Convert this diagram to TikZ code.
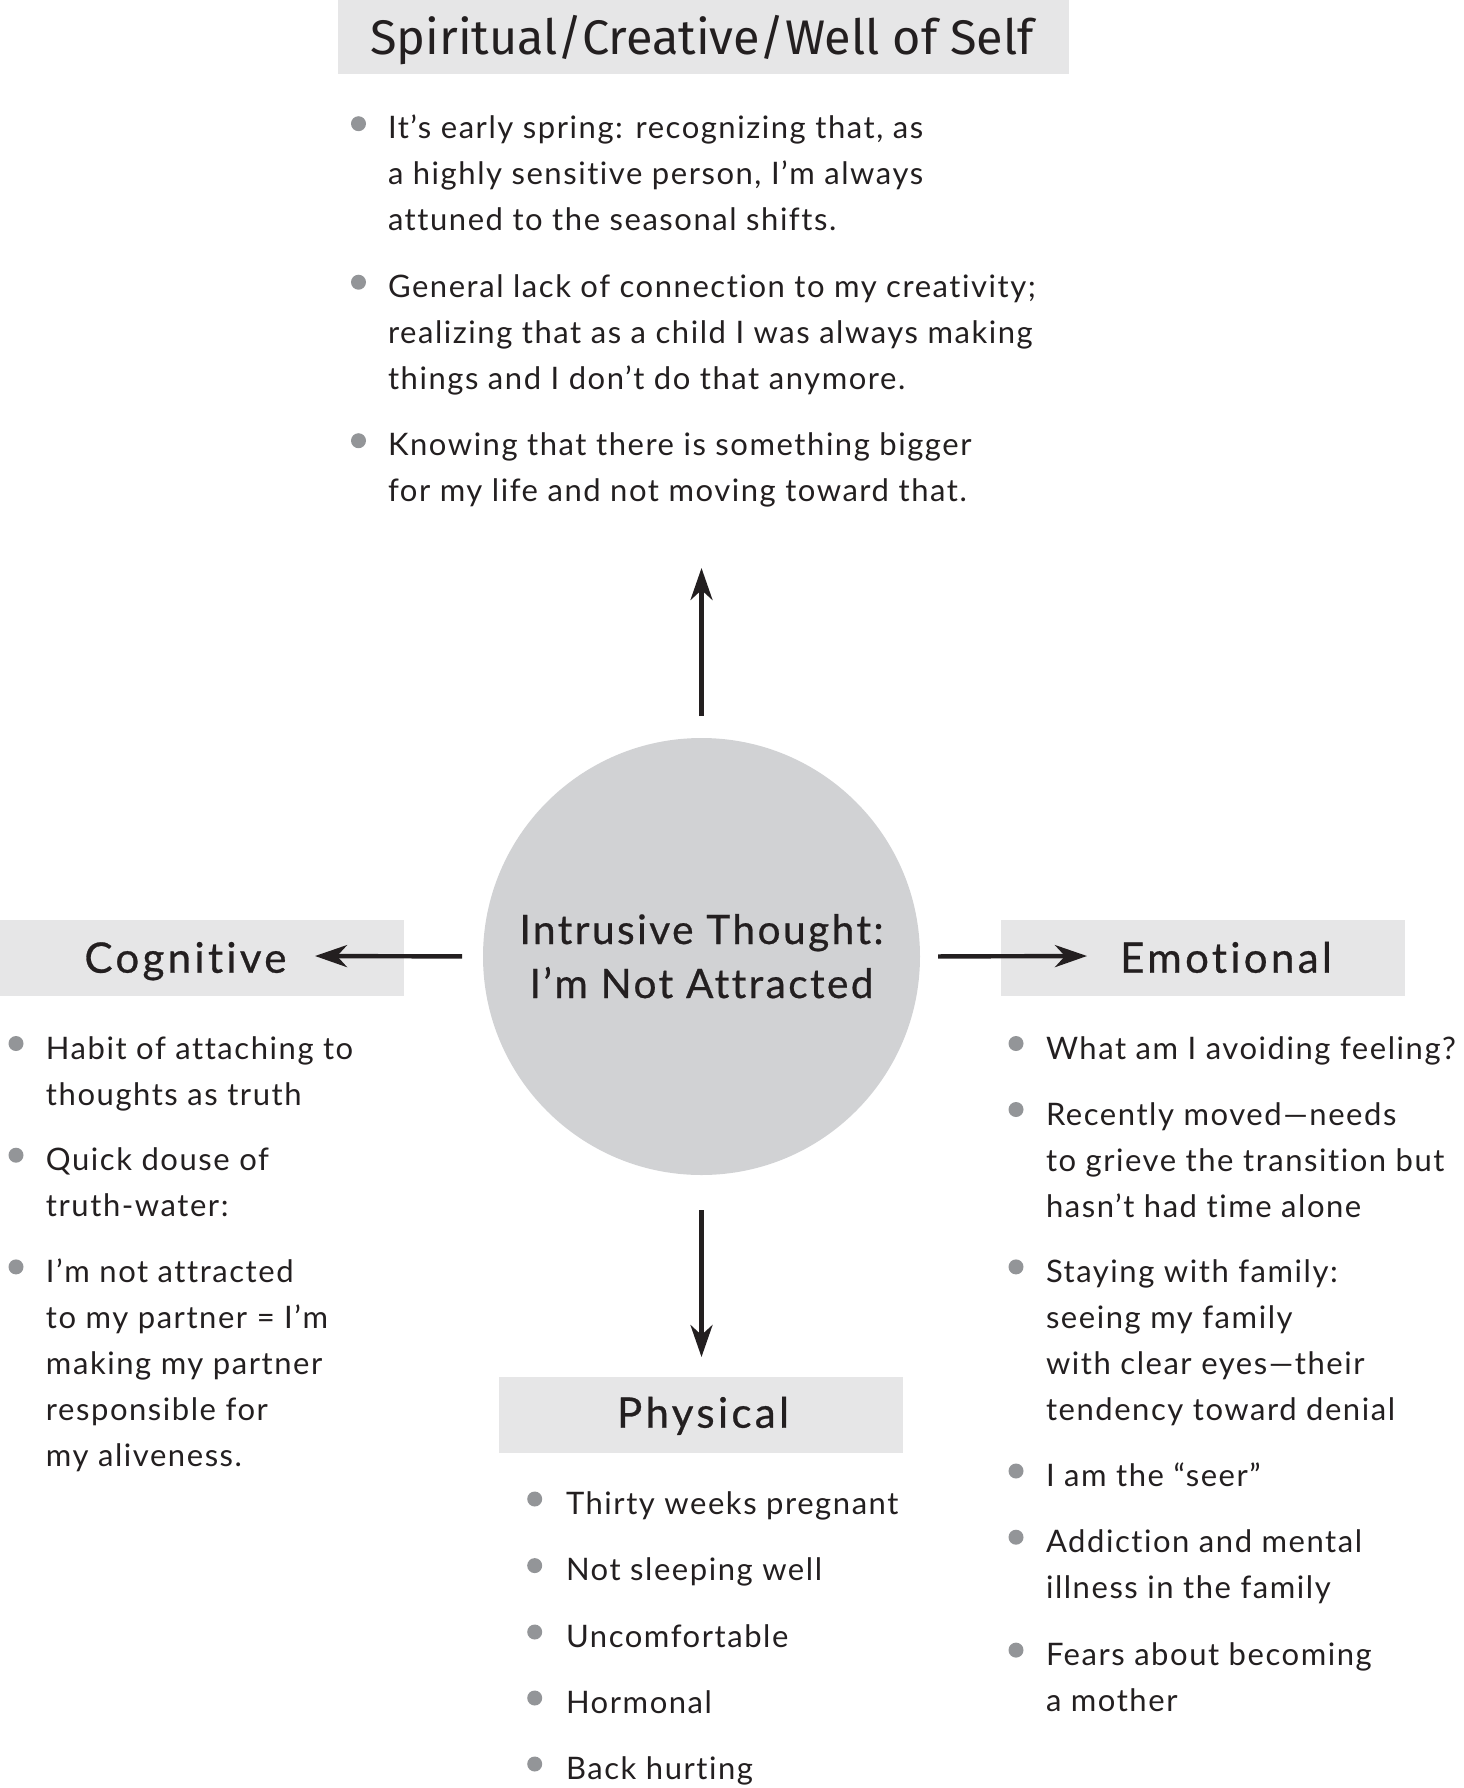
\documentclass[tikz,border=0pt]{standalone}
\usepackage{fontspec}
\setmainfont{Lato}[LetterSpace=5.0,Ligatures={NoCommon}]
\newfontfamily\hfont{Lato}[LetterSpace=8.0,FakeBold=0.7,Ligatures={NoCommon}]
\newfontfamily\cfont{Lato}[LetterSpace=6.0,FakeBold=0.6,Ligatures={NoCommon}]
\newfontfamily\tfont{Fira Sans}
\usetikzlibrary{arrows.meta}
\definecolor{ink}{HTML}{231F20}
\definecolor{boxgray}{HTML}{E6E6E7}
\definecolor{circgray}{HTML}{D1D2D4}
\definecolor{dotgray}{HTML}{939598}
\begin{document}
\begin{tikzpicture}[x=0.5pt,y=-0.5pt,
  every node/.style={inner sep=0pt, outer sep=0pt, text=ink},
  headbox/.style={fill=boxgray, minimum width=202pt, minimum height=38pt, anchor=north west},
  body/.style={anchor=base west, align=left, font=\fontsize{15.5}{23}\selectfont},
  dot/.style={circle, fill=dotgray, minimum size=7.5pt},
  headtext/.style={anchor=base, font=\hfont\fontsize{21}{25}\selectfont},
  arr/.style={draw=ink, line width=2.2pt, -{Stealth[length=16pt,width=11pt,inset=5pt]}}
]
\useasboundingbox (0,0) rectangle (1463,1788);

% top heading
\node[fill=boxgray, minimum width=365.5pt, minimum height=37pt, anchor=north west] (topbox) at (337.5,0) {};
\node[anchor=base, font=\tfont\fontsize{24.3}{28}\selectfont] (toptext) at (702,54.7) {Spiritual/Creative/Well of Self};

% top items (anchor = baseline of last line)
\node[dot] (td1) at (358.5,123.7) {};
\node[body] (tt1) at (388,230.7) {It’s early spring: recognizing that, as\\a highly sensitive person, I’m always\\attuned to the seasonal shifts.};
\node[dot] (td2) at (358.5,282.2) {};
\node[body] (tt2) at (388,389.2) {General lack of connection to my creativity;\\realizing that as a child I was always making\\things and I don’t do that anymore.};
\node[dot] (td3) at (358.5,440.7) {};
\node[body] (tt3) at (388,501.7) {Knowing that there is something bigger\\for my life and not moving toward that.};

% centre circle
\node[circle, fill=circgray, minimum size=218.5pt] (circ) at (701.5,956.5) {};
\node[anchor=base, align=center, font=\cfont\fontsize{20.3}{27}\selectfont] (circtext) at (701.5,998) {Intrusive Thought:\\I’m Not Attracted};

% boxes
\node[headbox] (cogbox) at (0,920) {};
\node[headtext] (cogtext) at (185.5,972.7) {Cognitive};
\node[headbox] (emobox) at (1001,920) {};
\node[headtext] (emotext) at (1226,972.7) {Emotional};
\node[headbox] (phybox) at (499,1377) {};
\node[headtext] (phytext) at (703,1427.7) {Physical};

% arrows
\coordinate (tipU) at (701.5,568);
\coordinate (tipL) at (315,956);
\coordinate (tipR) at (1087,956);
\coordinate (tipD) at (701.5,1357);
\draw[arr, shorten <=11pt] (circ.north) -- (tipU);
\draw[arr, shorten <=10.5pt] (circ.west) -- (tipL);
\draw[arr, shorten <=9pt] (circ.east) -- (tipR);
\draw[arr, shorten <=17.5pt] (circ.south) -- (tipD);

% cognitive items
\node[dot] (cd1) at (16,1043.5) {};
\node[body] (ct1) at (46,1105) {Habit of attaching to\\thoughts as truth};
\node[dot] (cd2) at (16,1155.2) {};
\node[body] (ct2) at (46,1216.7) {Quick douse of\\truth-water:};
\node[dot] (cd3) at (16,1266.9) {};
\node[body] (ct3) at (46,1466.4) {I’m not attracted\\to my partner = I’m\\making my partner\\responsible for\\my aliveness.};

% emotional items
\node[dot] (ed1) at (1016,1043.5) {};
\node[body] (et1) at (1046,1059) {What am I avoiding feeling?};
\node[dot] (ed2) at (1016,1109.5) {};
\node[body] (et2) at (1046,1217) {Recently moved—needs\\to grieve the transition but\\hasn’t had time alone};
\node[dot] (ed3) at (1016,1266.9) {};
\node[body] (et3) at (1046,1420.4) {Staying with family:\\seeing my family\\with clear eyes—their\\tendency toward denial};
\node[dot] (ed4) at (1016,1471) {};
\node[body] (et4) at (1046,1486.5) {I am the “seer”};
\node[dot] (ed5) at (1016,1537.2) {};
\node[body] (et5) at (1046,1598.7) {Addiction and mental\\illness in the family};
\node[dot] (ed6) at (1016,1650.1) {};
\node[body] (et6) at (1046,1711.6) {Fears about becoming\\a mother};

% physical items
\node[dot] (pd1) at (534.7,1499) {};
\node[body] (pt1) at (566,1514) {Thirty weeks pregnant};
\node[dot] (pd2) at (534.7,1565.6) {};
\node[body] (pt2) at (566,1580.6) {Not sleeping well};
\node[dot] (pd3) at (534.7,1632) {};
\node[body] (pt3) at (566,1647) {Uncomfortable};
\node[dot] (pd4) at (534.7,1698) {};
\node[body] (pt4) at (566,1713) {Hormonal};
\node[dot] (pd5) at (534.7,1764) {};
\node[body] (pt5) at (566,1779) {Back hurting};
\end{tikzpicture}
\end{document}
